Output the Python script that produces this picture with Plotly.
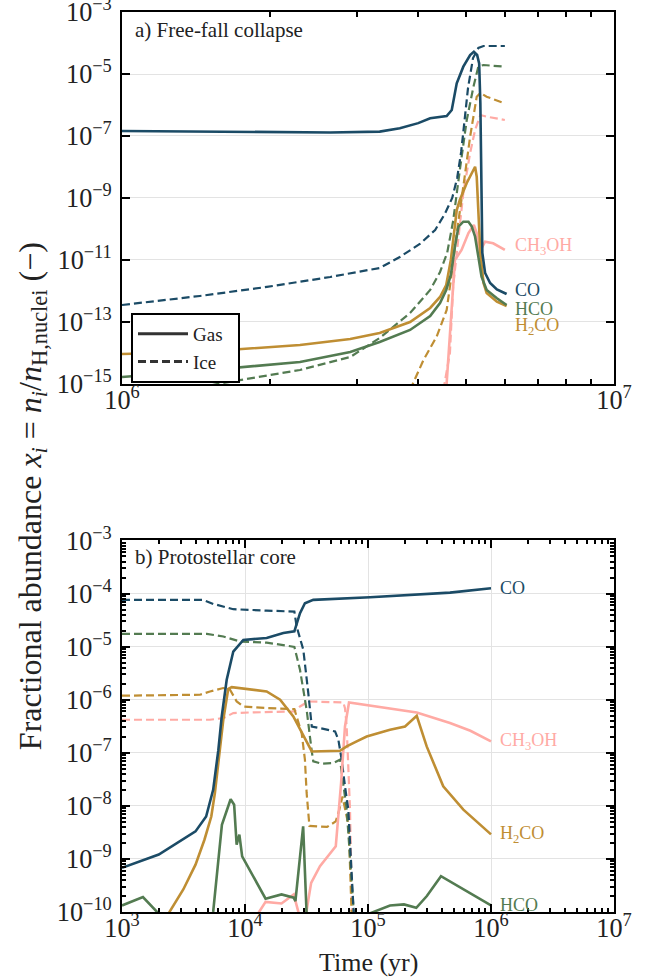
import numpy as np
import plotly.graph_objects as go
from plotly.subplots import make_subplots

# ---------------- panel a) free-fall collapse ----------------
ff_co_gas_t = [1.0e6, 1.44e6, 2.10e6, 2.65e6, 3.34e6, 3.67e6, 4.0e6, 4.23e6, 4.57e6, 4.68e6, 4.79e6,
               4.94e6, 5.10e6, 5.19e6, 5.27e6, 5.32e6, 5.35e6, 5.37e6, 5.40e6, 5.47e6, 5.60e6, 5.78e6, 6.05e6]
ff_co_gas = [1.45e-7, 1.40e-7, 1.32e-7, 1.30e-7, 1.38e-7, 1.77e-7, 2.6e-7, 3.72e-7, 4.42e-7, 6.9e-7, 5.0e-6,
             1.72e-5, 4.1e-5, 5.24e-5, 4.1e-5, 2.21e-5, 1.16e-6, 2.32e-9, 1.68e-11, 3.81e-12, 1.81e-12, 1.13e-12, 8.0e-13]

ff_co_ice_t = [1.0e6, 1.44e6, 1.97e6, 2.65e6, 3.34e6, 3.67e6, 4.03e6, 4.33e6, 4.53e6, 4.69e6, 4.80e6,
               4.89e6, 4.96e6, 5.05e6, 5.17e6, 5.30e6, 5.43e6, 6.0e6]
ff_co_ice = [3.53e-13, 6.9e-13, 1.35e-12, 2.83e-12, 5.52e-12, 1.25e-11, 3.28e-11, 9.3e-11, 3.05e-10, 1.0e-9,
             4.42e-9, 3.05e-8, 2.44e-7, 3.53e-6, 3.28e-5, 6.9e-5, 8.0e-5, 8.0e-5]

ff_hco_gas_t = [1.0e6, 1.44e6, 2.30e6, 2.91e6, 3.34e6, 3.85e6, 4.23e6, 4.43e6, 4.56e6, 4.66e6, 4.75e6, 4.83e6,
                4.94e6, 5.06e6, 5.14e6, 5.22e6, 5.30e6, 5.38e6, 5.51e6, 5.78e6, 6.05e6]
ff_hco_gas = [1.68e-15, 2.63e-15, 5.13e-15, 1.08e-14, 2.26e-14, 5.52e-14, 1.56e-13, 4.1e-13, 1.08e-12, 3.28e-12,
              2.69e-11, 1.19e-10, 1.72e-10, 1.72e-10, 1.19e-10, 5.65e-11, 1.28e-11, 2.89e-12, 1.08e-12, 5.82e-13,
              3.53e-13]

ff_hco_ice_t = [1.44e6, 1.56e6, 2.30e6, 2.91e6, 3.34e6, 3.85e6, 4.23e6, 4.43e6, 4.58e6, 4.71e6, 4.86e6, 5.02e6,
                5.18e6, 5.30e6, 5.43e6, 6.0e6]
ff_hco_ice = [7.4e-16, 1.0e-15, 2.83e-15, 7.4e-15, 3.05e-14, 1.95e-13, 1.08e-12, 4.1e-12, 1.68e-11, 1.8e-10,
              8.0e-9, 3.28e-7, 3.89e-6, 1.72e-5, 1.95e-5, 1.72e-5]

ff_h2co_gas_t = [1.0e6, 1.44e6, 2.30e6, 2.91e6, 3.34e6, 3.85e6, 4.23e6, 4.43e6, 4.56e6, 4.66e6, 4.79e6, 4.86e6,
                 5.02e6, 5.14e6, 5.22e6, 5.26e6, 5.30e6, 5.35e6, 5.43e6, 5.51e6, 5.78e6, 6.05e6]
ff_h2co_gas = [9.3e-15, 1.08e-14, 1.81e-14, 2.83e-14, 4.42e-14, 1.0e-13, 2.83e-13, 6.4e-13, 1.56e-12, 1.0e-11,
               4.1e-10, 8.6e-10, 3.05e-9, 6.4e-9, 1.02e-8, 4.87e-9, 5.24e-10, 1.68e-11, 1.81e-12, 8.6e-13,
               4.52e-13, 3.28e-13]

ff_h2co_ice_t = [3.85e6, 4.10e6, 4.36e6, 4.57e6, 4.68e6, 4.79e6, 4.94e6, 5.10e6, 5.26e6, 5.35e6, 5.51e6, 6.0e6]
ff_h2co_ice = [6.4e-16, 5.94e-15, 3.36e-14, 2.44e-13, 3.72e-12, 7.4e-11, 2.32e-9, 9.5e-8, 1.85e-6, 2.44e-6,
               1.85e-6, 1.13e-6]

ff_ch3oh_gas_t = [4.56e6, 4.68e6, 4.75e6, 4.90e6, 5.06e6, 5.19e6, 5.26e6, 5.32e6, 5.36e6, 5.47e6, 5.68e6, 6.0e6]
ff_ch3oh_gas = [6.4e-16, 4.1e-13, 1.0e-11, 2.1e-11, 7.4e-11, 1.35e-10, 7.4e-11, 1.28e-11, 2.1e-11, 3.89e-11,
                3.46e-11, 2.1e-11]

ff_ch3oh_ice_t = [4.50e6, 4.64e6, 4.71e6, 4.83e6, 4.94e6, 5.10e6, 5.22e6, 5.35e6, 5.51e6, 6.0e6]
ff_ch3oh_ice = [6.4e-16, 1.0e-14, 1.38e-12, 5.65e-11, 1.45e-9, 2.83e-8, 1.56e-7, 4.75e-7, 4.2e-7, 3.28e-7]

# ---------------- panel b) protostellar core ----------------
pc_co_gas_t = [1e3, 1.99e3, 3.96e3, 4.83e3, 5.51e3, 6.07e3, 6.47e3, 7.10e3, 8.03e3, 9.69e3, 1.50e4, 2.05e4,
               2.52e4, 2.80e4, 3.07e4, 3.59e4, 1.04e5, 2.49e5, 4.64e5, 1.0e6]
pc_co_gas = [6.78e-10, 1.21e-9, 3.30e-9, 6.3e-9, 2.0e-8, 1.12e-7, 4.83e-7, 2.37e-6, 8.07e-6, 1.34e-5, 1.45e-5,
             1.80e-5, 1.94e-5, 4.27e-5, 6.58e-5, 7.59e-5, 8.53e-5, 9.42e-5, 1.04e-4, 1.26e-4]

pc_co_ice_t = [1e3, 4.58e3, 5.52e3, 8.03e3, 1.50e4, 2.52e4, 2.63e4, 2.98e4, 3.27e4, 3.49e4, 4.07e4, 5.40e4,
               5.74e4, 6.11e4, 6.50e4, 6.92e4, 7.6e4, 7.8e4]
pc_co_ice = [7.59e-5, 7.59e-5, 6.38e-5, 5.07e-5, 4.77e-5, 4.57e-5, 2.39e-5, 8.7e-6, 1.33e-6, 3.13e-7, 2.92e-7,
             2.52e-7, 1.76e-7, 7.41e-8, 2.33e-8, 8.5e-9, 1.29e-10, 5e-11]

pc_hco_gas_t = [1e3, 1.48e3, 1.93e3, 2.06e3, 5.32e3, 5.51e3, 6.49e3, 7.64e3, 8.16e3, 8.55e3, 9.0e3, 9.48e3,
                1.47e4, 1.98e4, 2.49e4, 2.57e4, 2.97e4, 3.17e4, 9.86e4, 1.51e5, 1.96e5, 2.47e5, 3.01e5, 3.92e5, 1.0e6]
pc_hco_gas = [1.33e-10, 1.91e-10, 1e-10, 7e-11, 7e-11, 1e-10, 4.4e-9, 1.33e-8, 1.05e-8, 1.86e-9, 2.86e-9, 1.12e-9,
              1.78e-10, 2.14e-10, 1.86e-10, 1.6e-10, 4.1e-9, 9e-11, 9e-11, 1.33e-10, 1.39e-10, 1.2e-10, 2.0e-10,
              4.73e-10, 1.33e-10]

pc_hco_ice_t = [1e3, 4.89e3, 6.67e3, 9.10e3, 1.50e4, 2.52e4, 2.80e4, 3.17e4, 3.49e4, 3.59e4, 4.21e4, 5.23e4,
                5.92e4, 6.30e4, 6.71e4, 7.64e4, 7.9e4]
pc_hco_ice = [1.74e-5, 1.74e-5, 1.55e-5, 1.25e-5, 1.19e-5, 9.9e-6, 3.66e-6, 6.46e-7, 1.06e-7, 6.88e-8, 6.22e-8,
              6.41e-8, 7.41e-8, 2.33e-8, 8.5e-9, 1.12e-10, 5e-11]

pc_h2co_gas_t = [2.2e3, 2.43e3, 3.15e3, 3.96e3, 4.68e3, 5.32e3, 5.69e3, 6.28e3, 6.66e3, 7.31e3, 7.8e3, 1.50e4,
                 1.93e4, 2.47e4, 3.49e4, 5.92e4, 6.71e4, 8.09e4, 9.76e4, 1.51e5, 2.00e5, 2.49e5, 3.00e5, 4.09e5,
                 5.96e5, 1.0e6]
pc_h2co_gas = [5e-11, 1e-10, 2.66e-10, 7.8e-10, 2.3e-9, 6.3e-9, 1.74e-8, 1.12e-7, 4.19e-7, 1.6e-6, 1.72e-6,
               1.43e-6, 1.0e-6, 4.83e-7, 1.06e-7, 1.09e-7, 1.32e-7, 1.64e-7, 2.03e-7, 2.72e-7, 3.13e-7, 4.98e-7,
               1.32e-7, 2.33e-8, 8.5e-9, 2.9e-9]

pc_h2co_ice_t = [1e3, 4.31e3, 5.19e3, 6.66e3, 7.55e3, 8.56e3, 9.69e3, 1.50e4, 2.52e4, 2.63e4, 2.89e4, 3.07e4,
                 3.17e4, 3.34e4, 4.65e4, 5.47e4, 5.84e4, 6.2e4, 6.97e4, 7.35e4, 7.6e4]
pc_h2co_ice = [1.19e-6, 1.24e-6, 1.43e-6, 1.66e-6, 1.54e-6, 9.27e-7, 7.45e-7, 6.95e-7, 6.65e-7, 4.83e-7, 2.35e-7,
               7.41e-8, 1.75e-8, 4.2e-9, 4.0e-9, 5.1e-9, 8.4e-9, 1.5e-8, 4.1e-9, 1e-10, 5e-11]

pc_ch3oh_gas_t = [1.2e4, 1.29e4, 1.47e4, 1.98e4, 2.49e4, 2.75e4, 3.13e4, 3.45e4, 4.07e4, 5.47e4, 6.04e4, 6.50e4,
                  7.01e4, 2.49e5, 4.64e5, 6.8e5, 1.0e6]
pc_ch3oh_gas = [5e-11, 9.7e-11, 1.55e-10, 1.45e-10, 2.14e-10, 9e-11, 9e-11, 3.55e-10, 7.3e-10, 1.73e-9, 2.66e-8,
                3.13e-7, 8.87e-7, 5.75e-7, 3.63e-7, 2.6e-7, 1.64e-7]

pc_ch3oh_ice_t = [1e3, 5.19e3, 6.66e3, 8.03e3, 1.10e4, 2.52e4, 2.80e4, 3.27e4, 6.30e4, 6.50e4, 6.71e4, 6.92e4,
                  7.14e4, 7.41e4, 7.6e4]
pc_ch3oh_ice = [4.19e-7, 4.19e-7, 4.51e-7, 5.6e-7, 5.75e-7, 6.0e-7, 7.45e-7, 9.27e-7, 8.87e-7, 6.95e-7, 3.13e-7,
                5.53e-8, 8.5e-9, 1e-10, 5e-11]

species = ["CO", "HCO", "H2CO", "CH3OH"]
species_labels = {"CO": "CO", "HCO": "HCO", "H2CO": "H<sub>2</sub>CO", "CH3OH": "CH<sub>3</sub>OH"}
colors = {"CO": "#1b4b66", "HCO": "#537b51", "H2CO": "#bf8e33", "CH3OH": "#ffaaa4"}

panel_a = {
    "CO": (ff_co_gas_t, ff_co_gas, ff_co_ice_t, ff_co_ice),
    "HCO": (ff_hco_gas_t, ff_hco_gas, ff_hco_ice_t, ff_hco_ice),
    "H2CO": (ff_h2co_gas_t, ff_h2co_gas, ff_h2co_ice_t, ff_h2co_ice),
    "CH3OH": (ff_ch3oh_gas_t, ff_ch3oh_gas, ff_ch3oh_ice_t, ff_ch3oh_ice),
}
panel_b = {
    "CO": (pc_co_gas_t, pc_co_gas, pc_co_ice_t, pc_co_ice),
    "HCO": (pc_hco_gas_t, pc_hco_gas, pc_hco_ice_t, pc_hco_ice),
    "H2CO": (pc_h2co_gas_t, pc_h2co_gas, pc_h2co_ice_t, pc_h2co_ice),
    "CH3OH": (pc_ch3oh_gas_t, pc_ch3oh_gas, pc_ch3oh_ice_t, pc_ch3oh_ice),
}

SERIF = "Liberation Serif"
TXT = "#222222"
W, H = 649, 979
ML, MR, MT, MB = 122, 35, 12, 67

fig = make_subplots(rows=2, cols=1, vertical_spacing=0.1739)

for row, panel in ((1, panel_a), (2, panel_b)):
    # ice first so the gas curves sit on top
    for sp in ["CH3OH", "H2CO", "HCO", "CO"]:
        gt, gv, it, iv = panel[sp]
        fig.add_trace(go.Scatter(x=it, y=iv, mode="lines", showlegend=False, hoverinfo="skip",
                                 line=dict(color=colors[sp], width=2.2, dash="8px,4px")), row=row, col=1)
    for sp in ["CH3OH", "H2CO", "HCO", "CO"]:
        gt, gv, it, iv = panel[sp]
        fig.add_trace(go.Scatter(x=gt, y=gv, mode="lines", showlegend=False, hoverinfo="skip",
                                 line=dict(color=colors[sp], width=2.6)), row=row, col=1)

# legend entries (phase)
fig.add_trace(go.Scatter(x=[None], y=[None], mode="lines", name="Gas&nbsp;&nbsp;",
                         line=dict(color="#333333", width=3)), row=1, col=1)
fig.add_trace(go.Scatter(x=[None], y=[None], mode="lines", name="Ice",
                         line=dict(color="#333333", width=3, dash="8px,4px")), row=1, col=1)

axis_common = dict(
    type="log", showline=True, linecolor="black", linewidth=2, mirror="allticks",
    ticks="inside", ticklen=8, tickwidth=1.5, tickcolor="black", automargin=False,
    ticklabeloverflow="allow",
    exponentformat="power", tickfont=dict(family=SERIF, size=21, color=TXT),
    gridcolor="#e3e3e3", gridwidth=1, zeroline=False,
)

fig.update_xaxes(axis_common, row=1, col=1, range=[6, 7], dtick=1, showgrid=False, ticklabelstandoff=-7,
                 minor=dict(ticks="inside", ticklen=5, tickcolor="black", dtick="D1", showgrid=False))
fig.update_yaxes(axis_common, row=1, col=1, range=[-15, -3], dtick=2, tick0=-3, ticklabelstandoff=4)
fig.update_xaxes(axis_common, row=2, col=1, range=[3, 7], dtick=1, ticklabelstandoff=-7,
                 minor=dict(ticks="inside", ticklen=4, tickcolor="black", dtick="D1", showgrid=False))
fig.update_yaxes(axis_common, row=2, col=1, range=[-10, -3], dtick=1, ticklabelstandoff=4,
                 minor=dict(ticks="inside", ticklen=4, tickcolor="black", dtick="D1", showgrid=False))

ann = []
# panel titles
ann.append(dict(text="a) Free-fall collapse", xref="x domain", yref="y domain", x=0.022, y=0.952,
                xanchor="left", yanchor="middle", showarrow=False, font=dict(family=SERIF, size=21, color=TXT)))
ann.append(dict(text="b) Protostellar core", xref="x2 domain", yref="y2 domain", x=0.022, y=0.956,
                xanchor="left", yanchor="middle", showarrow=False, font=dict(family=SERIF, size=21, color=TXT)))

# species labels, panel a (stacked near the curve ends)
label_y_a = {"CH3OH": -10.58, "CO": -11.97, "HCO": -12.58, "H2CO": -13.13}
for sp, ly in label_y_a.items():
    ann.append(dict(text=species_labels[sp], xref="x", yref="y", x=6.795, y=ly, xanchor="left",
                    yanchor="middle", showarrow=False, font=dict(family=SERIF, size=18, color=colors[sp])))
# species labels, panel b (at the gas curve ends)
for sp in species:
    gt, gv, _, _ = panel_b[sp]
    ann.append(dict(text=species_labels[sp], xref="x2", yref="y2", x=np.log10(gt[-1]) + 0.055,
                    y=np.log10(gv[-1]), xanchor="left", yanchor="middle", showarrow=False,
                    font=dict(family=SERIF, size=18, color=colors[sp])))

# shared axis titles
ann.append(dict(text="Fractional abundance <i>x<sub>i</sub></i> = <i>n<sub>i</sub></i>/<i>n</i><sub>H,nuclei</sub> (−)",
                xref="paper", yref="paper", x=-0.183, y=0.462, textangle=-90, showarrow=False,
                xanchor="center", yanchor="middle", font=dict(family=SERIF, size=32, color=TXT)))
ann.append(dict(text="Time (yr)", xref="paper", yref="paper", x=0.5, y=-0.0556, showarrow=False,
                xanchor="center", yanchor="middle", font=dict(family=SERIF, size=26, color=TXT)))

fig.update_layout(
    width=W, height=H, margin=dict(l=ML, r=MR, t=MT, b=MB, autoexpand=False),
    paper_bgcolor="white", plot_bgcolor="white",
    annotations=ann,
    showlegend=True,
    legend=dict(x=0.0183, y=0.6656, xanchor="left", yanchor="top", bgcolor="white",
                bordercolor="black", borderwidth=2, font=dict(family=SERIF, size=19, color=TXT),
                tracegroupgap=0, itemwidth=50),
)
fig.update_yaxes(domain=[0.5867, 1.0], row=1, col=1)
fig.update_yaxes(domain=[0.0, 0.4128], row=2, col=1)

fig.write_html("out.html")
